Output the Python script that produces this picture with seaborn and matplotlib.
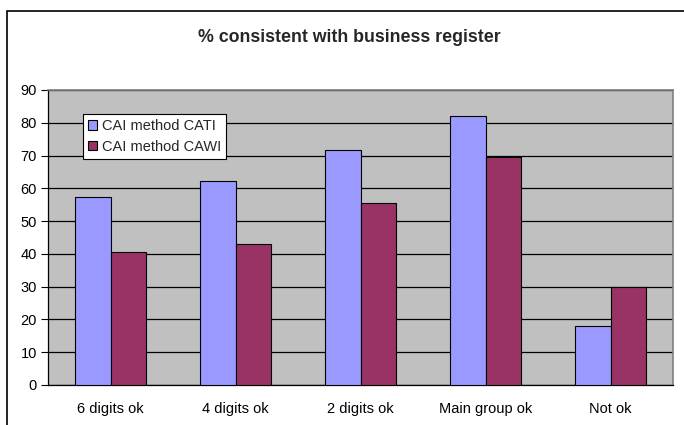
import matplotlib
matplotlib.use("Agg")
import matplotlib.pyplot as plt
from matplotlib.patches import Rectangle
import pandas as pd
import seaborn as sns

categories = ["6 digits ok", "4 digits ok", "2 digits ok", "Main group ok", "Not ok"]
cati = [57.4, 62.3, 71.7, 82.1, 18.0]
cawi = [40.6, 43.0, 55.4, 69.7, 30.0]
series_names = ["CAI method CATI", "CAI method CAWI"]
yticks = [0, 10, 20, 30, 40, 50, 60, 70, 80, 90]

df = pd.DataFrame({
    "category": categories * 2,
    "value": cati + cawi,
    "method": [series_names[0]] * len(categories) + [series_names[1]] * len(categories),
})

sns.set_theme(style="white")
plt.rcParams["font.family"] = ["Liberation Sans", "DejaVu Sans"]

fig = plt.figure(figsize=(6.84, 4.25), dpi=100)
ax = fig.add_axes([48 / 684, 40 / 425, 625 / 684, 295 / 425])
ax.set_facecolor("#C0C0C0")

sns.barplot(
    data=df, x="category", y="value", hue="method",
    palette={series_names[0]: "#9999FF", series_names[1]: "#993366"},
    width=0.57, saturation=1, edgecolor="black", linewidth=0.8,
    ax=ax, zorder=3,
)

ax.set_ylim(0, 90)
ax.set_xlim(-0.5, len(categories) - 0.5)
ax.set_yticks(yticks)
ax.set_yticklabels([str(t) for t in yticks], fontsize=10.5, color="black")
ax.yaxis.grid(True, color="black", linewidth=0.9, zorder=1)
ax.set_axisbelow(True)

# category labels centered, ticks at category boundaries
ax.set_xticks(range(len(categories)))
ax.set_xticklabels(categories, fontsize=10.5, color="black")
ax.tick_params(axis="x", length=0, pad=12)
ax.set_xticks([i - 0.5 for i in range(len(categories) + 1)], minor=True)
ax.tick_params(axis="x", which="minor", length=4, width=0.8, color="black", direction="out")
ax.tick_params(axis="y", length=5, width=0.8, color="black", direction="out", left=True, pad=3)
ax.set_xlabel("")
ax.set_ylabel("")

for side in ["top", "right"]:
    ax.spines[side].set_color("#808080")
    ax.spines[side].set_linewidth(1.2)
for side in ["left", "bottom"]:
    ax.spines[side].set_color("black")
    ax.spines[side].set_linewidth(0.9)

leg = ax.legend(
    loc="upper left", bbox_to_anchor=(35 / 625, 271 / 295),
    fontsize=10.5, frameon=True, fancybox=False, framealpha=1,
    edgecolor="black", handlelength=0.6, handleheight=0.6,
    handletextpad=0.35, borderpad=0.35, labelspacing=0.45,
    borderaxespad=0,
)
leg.get_frame().set_linewidth(0.8)
leg.set_zorder(5)

fig.text(349 / 684, 1 - 37 / 425, "% consistent with business register",
         ha="center", va="center", fontsize=12.8, fontweight="bold")

# outer chart border
fig.patches.append(Rectangle((7 / 684, -0.05), 1.2, 1 - 11 / 425 + 0.05,
                             transform=fig.transFigure, fill=False,
                             edgecolor="black", linewidth=1.2))

fig.savefig("out.png", dpi=100)
